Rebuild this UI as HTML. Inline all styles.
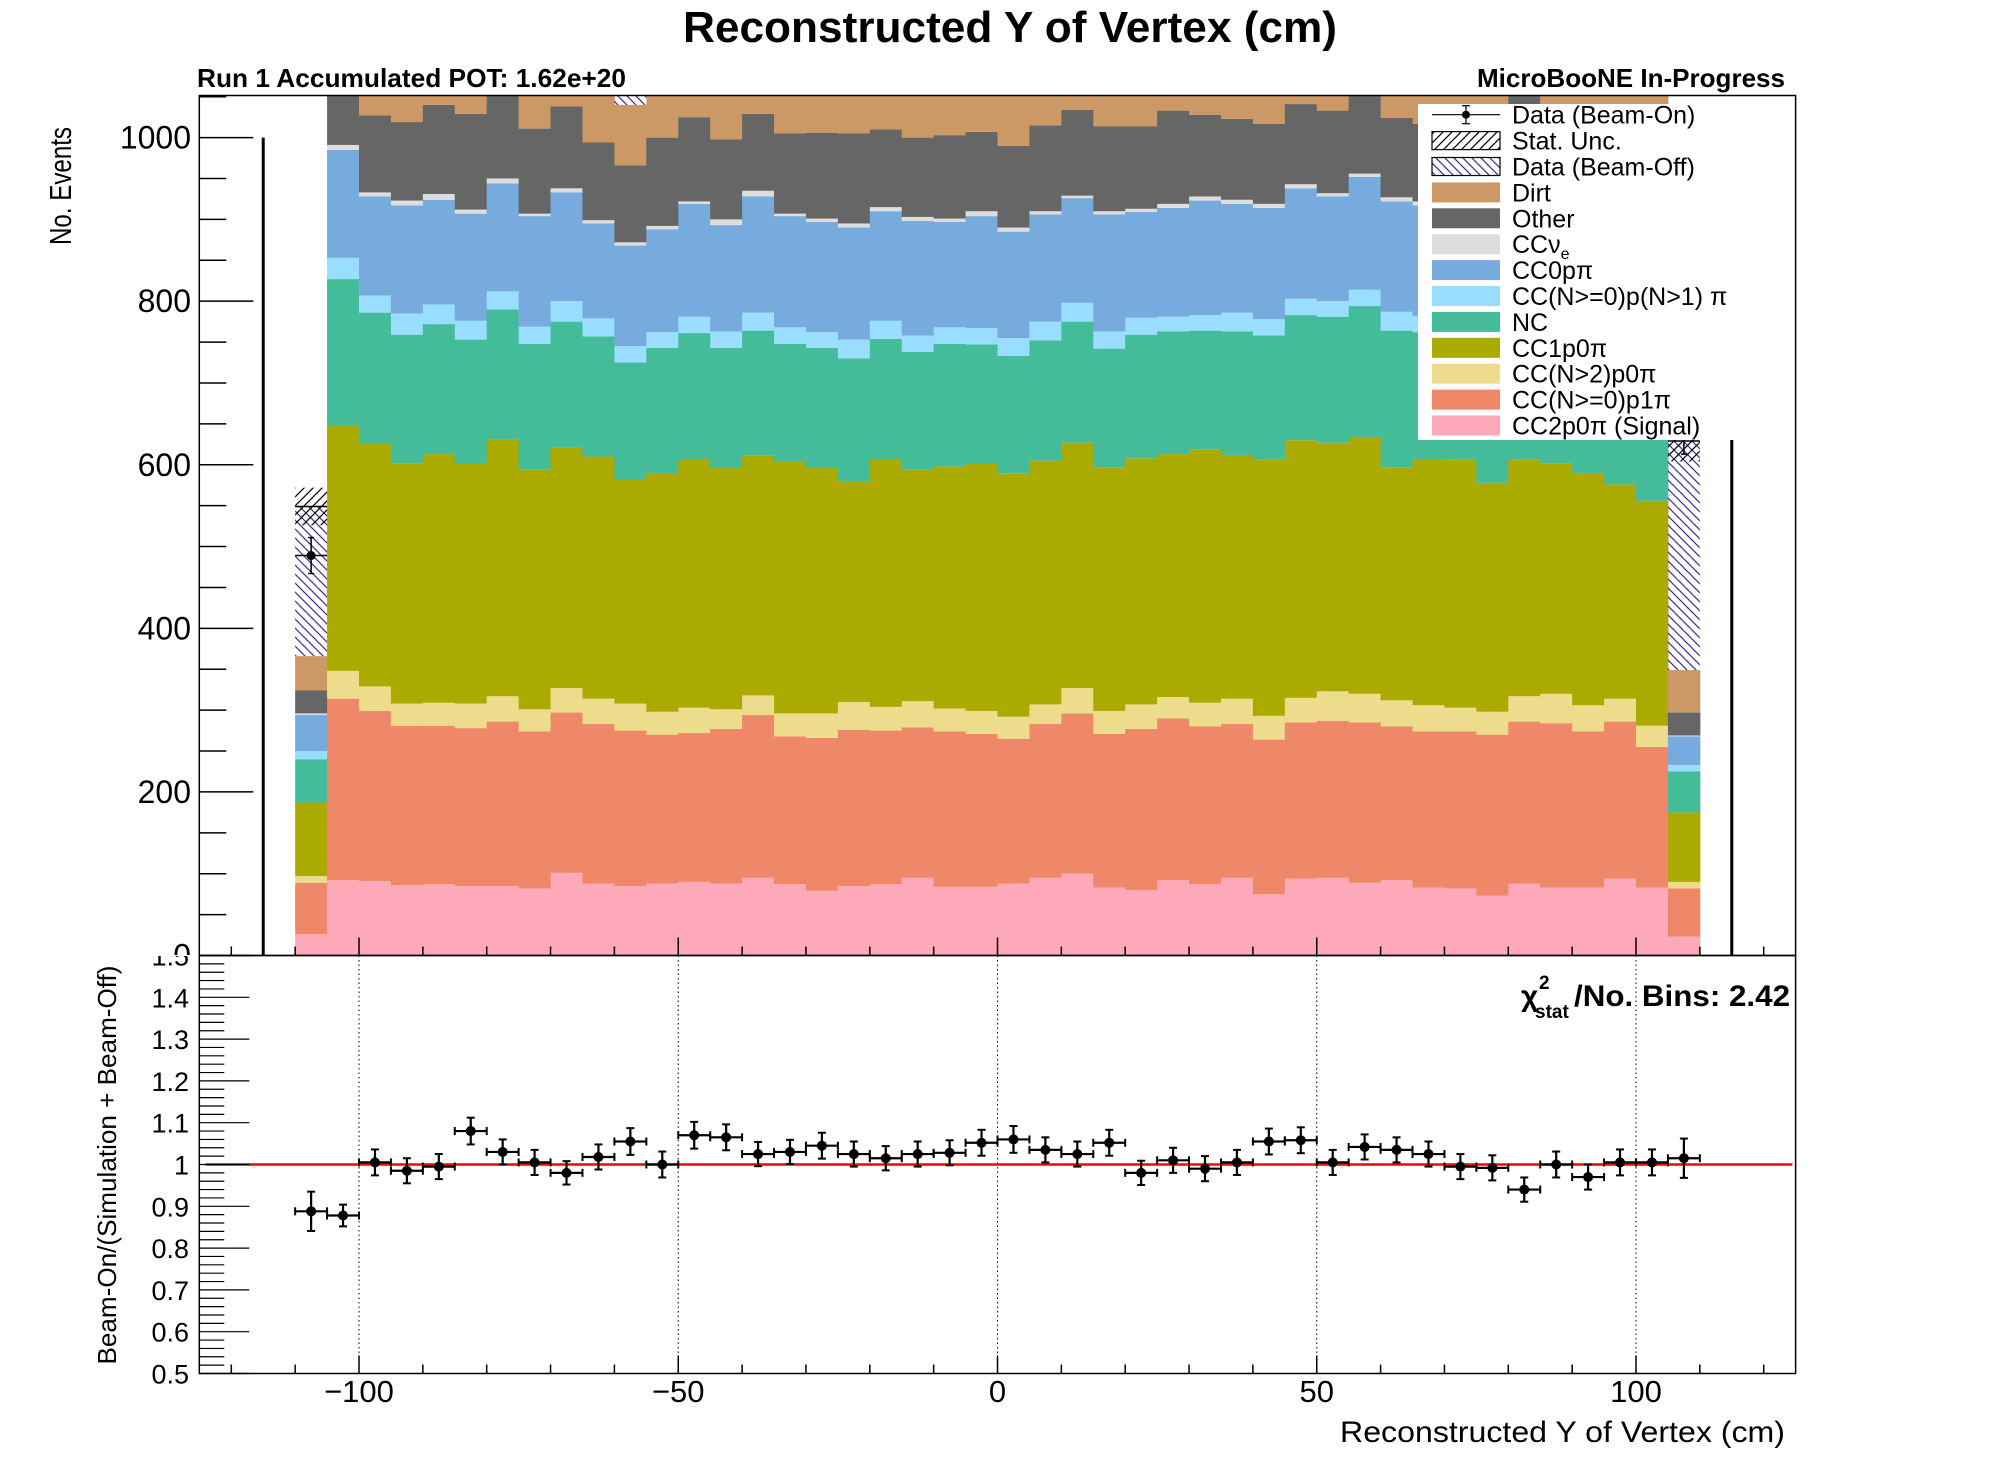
<!DOCTYPE html>
<html>
<head>
<meta charset="utf-8">
<style>
html,body{margin:0;padding:0;background:#fff;}
svg{display:block;}
text{font-family:"Liberation Sans",Arial,sans-serif;}
</style>
</head>
<body>
<svg id="chart" xmlns="http://www.w3.org/2000/svg" width="1996" height="1472" viewBox="0 0 1996 1472">
<defs>
<pattern id="offHatch" width="9" height="9" patternUnits="userSpaceOnUse">
<path d="M0,0 L9,9 M-4.5,4.5 L4.5,13.5 M4.5,-4.5 L13.5,4.5" stroke="#3a2a9e" stroke-width="1.2"/>
</pattern>
<pattern id="statHatch" width="9" height="9" patternUnits="userSpaceOnUse">
<path d="M0,9 L9,0 M-4.5,4.5 L4.5,-4.5 M4.5,13.5 L13.5,4.5" stroke="#000" stroke-width="1.2"/>
</pattern>
<clipPath id="upClip"><rect x="199" y="95.5" width="1597" height="860"/></clipPath>
<clipPath id="lowClip"><rect x="199" y="955.5" width="1597" height="418"/></clipPath>
<clipPath id="upLabelClip"><rect x="0" y="0" width="199" height="955"/></clipPath>
<clipPath id="lowLabelClip"><rect x="0" y="956" width="199" height="460"/></clipPath>
</defs>
<g id="upper" clip-path="url(#upClip)"></g>
<g id="lower" clip-path="url(#lowClip)"></g>
<g id="axes"></g>
<g id="legend"></g>

<text x="1010" y="42" text-anchor="middle" font-size="44" font-weight="bold" textLength="654" lengthAdjust="spacingAndGlyphs">Reconstructed Y of Vertex (cm)</text>
<text x="197" y="87" font-size="26" font-weight="bold" textLength="429" lengthAdjust="spacingAndGlyphs">Run 1 Accumulated POT: 1.62e+20</text>
<text x="1785" y="87" text-anchor="end" font-size="26" font-weight="bold" textLength="308" lengthAdjust="spacingAndGlyphs">MicroBooNE In-Progress</text>
<text transform="translate(71,186) rotate(-90)" text-anchor="middle" font-size="31" textLength="118" lengthAdjust="spacingAndGlyphs">No. Events</text>
<text transform="translate(116,1165) rotate(-90)" text-anchor="middle" font-size="26" textLength="399" lengthAdjust="spacingAndGlyphs">Beam-On/(Simulation + Beam-Off)</text>
<text x="1785" y="1442" text-anchor="end" font-size="30" textLength="445" lengthAdjust="spacingAndGlyphs">Reconstructed Y of Vertex (cm)</text>
<g>
<text x="1521" y="1006" font-size="30" font-weight="bold">χ</text>
<text x="1539" y="989" font-size="19" font-weight="bold">2</text>
<text x="1535" y="1018" font-size="19" font-weight="bold">stat</text>
<text x="1574" y="1006" font-size="30" font-weight="bold" textLength="216" lengthAdjust="spacingAndGlyphs">/No. Bins: 2.42</text>
</g>
</svg>
<script>
// ---- data ----
const binCenters = [-107.5,-102.5,-97.5,-92.5,-87.5,-82.5,-77.5,-72.5,-67.5,-62.5,-57.5,-52.5,-47.5,-42.5,-37.5,-32.5,-27.5,-22.5,-17.5,-12.5,-7.5,-2.5,2.5,7.5,12.5,17.5,22.5,27.5,32.5,37.5,42.5,47.5,52.5,57.5,62.5,67.5,72.5,77.5,82.5,87.5,92.5,97.5,102.5,107.5];
const binWidth = 5;
const signalVals = [26,92,91,86,87,85,85,82,101,88,85,88,90,88,95,87,79,85,87,95,84,84,88,95,100,83,80,92,87,95,75,94,95,89,92,83,82,73,88,83,83,94,83,23];
const p1piVals = [63,222,208,195,194,193,201,192,196,195,190,182,182,189,199,181,187,191,188,184,190,187,177,188,196,188,197,198,193,188,189,191,192,196,188,191,192,197,198,201,191,192,172,59];
const np0piVals = [8,34,30,27,28,30,31,27,30,31,33,28,31,24,24,28,30,34,29,32,28,28,27,24,31,28,30,26,29,31,29,30,36,35,32,32,29,28,31,36,32,28,26,8];
const cc1p0piVals = [90,300,297,294,304,293,314,293,294,296,274,292,304,295,293,308,300,269,303,283,296,302,297,298,300,298,301,297,310,298,313,315,304,314,285,301,303,280,289,282,284,262,275,85];
const ncVals = [53,179,160,157,159,152,159,154,154,147,143,153,154,147,153,144,147,151,147,144,150,146,144,147,148,145,151,150,145,151,152,153,154,160,167,155,155,158,155,155,155,160,160,50];
const multiPiVals = [10,26,21,26,24,23,22,21,25,22,20,19,20,20,22,20,19,23,22,20,20,20,22,23,23,21,21,18,19,23,20,20,19,20,23,20,20,20,20,20,20,20,20,8];
const cc0pVals = [44,132,121,132,128,131,132,135,133,116,123,126,138,130,142,136,135,137,134,140,129,137,130,131,128,143,129,133,140,133,136,135,128,138,135,135,135,133,135,135,135,135,130,35];
const ccnueVals = [2,6,5,6,7,5,6,3,5,4,4,4,3,7,7,3,4,5,5,5,4,6,5,4,3,4,4,5,5,5,5,5,4,4,5,5,5,5,5,5,5,5,5,1];
const otherVals = [28,79,94,96,109,117,110,104,100,95,94,108,103,98,94,98,105,110,95,97,102,97,100,105,105,104,101,114,100,99,98,98,101,104,97,95,95,100,135,95,95,95,95,28];
const dirtVals = [42,60,60,60,60,60,60,60,60,70,74,60,60,60,60,60,60,60,60,60,60,60,70,60,60,60,60,60,60,60,60,60,60,60,60,60,60,60,60,60,60,60,90,52];
const beamOffVals = [183,200,200,200,200,200,200,200,200,200,200,200,200,200,200,200,200,200,200,200,200,200,200,200,200,200,200,200,200,200,200,200,200,200,200,200,200,200,200,200,200,200,200,280];
const statUncVals = [23,36,36,36,36,36,36,36,36,36,36,36,36,36,36,36,36,36,36,36,36,36,36,36,36,36,36,36,36,36,36,36,36,36,36,36,36,36,36,36,36,36,36,25];
const beamOnVals = [489,1168,1290,1262,1285,1378,1315,1270,1267,1280,1298,1273,1350,1345,1290,1300,1318,1295,1285,1296,1297,1320,1325,1305,1300,1325,1245,1282,1258,1275,1340,1350,1280,1330,1310,1300,1262,1265,1230,1270,1235,1275,1270,638];
const beamOnErr = [22,36,36,36,36,36,36,36,36,36,36,36,36,36,36,36,36,36,36,36,36,36,36,36,36,36,36,36,36,36,36,36,36,36,36,36,36,36,36,36,36,36,36,25];
const ratioVals = [0.888,0.878,1.005,0.985,0.995,1.080,1.030,1.005,0.980,1.018,1.055,1.000,1.070,1.065,1.025,1.030,1.045,1.025,1.015,1.025,1.028,1.052,1.060,1.035,1.025,1.052,0.980,1.010,0.990,1.005,1.055,1.058,1.005,1.042,1.035,1.025,0.995,0.992,0.940,1.000,0.970,1.005,1.005,1.015];
const ratioErr = [0.047,0.026,0.031,0.030,0.030,0.032,0.030,0.030,0.028,0.030,0.032,0.031,0.032,0.031,0.029,0.029,0.031,0.030,0.029,0.030,0.030,0.031,0.032,0.030,0.030,0.031,0.029,0.030,0.030,0.030,0.031,0.031,0.030,0.030,0.030,0.030,0.030,0.030,0.029,0.031,0.030,0.031,0.031,0.047];
const edgeLineX = [-115,115];
const edgeLineTop = [1000,1000];
const upperTicksMajor = [0,200,400,600,800,1000];
const upperTickLabels = ["0","200","400","600","800","1000"];
const ratioTicks = [0.5,0.6,0.7,0.8,0.9,1.0,1.1,1.2,1.3,1.4,1.5];
const ratioTickLabels = ["0.5","0.6","0.7","0.8","0.9","1","1.1","1.2","1.3","1.4","1.5"];
const xTicks = [-100,-50,0,50,100];
const xTickLabels = ["\u2212100","\u221250","0","50","100"];

const seriesList = [
  {name:"signal", vals:signalVals, color:"#fea9b9", label:"CC2p0\u03c0 (Signal)"},
  {name:"cc-n-p1pi", vals:p1piVals, color:"#ee8869", label:"CC(N>=0)p1\u03c0"},
  {name:"cc-n2p0pi", vals:np0piVals, color:"#eddc8b", label:"CC(N>2)p0\u03c0"},
  {name:"cc1p0pi", vals:cc1p0piVals, color:"#aaaa00", label:"CC1p0\u03c0"},
  {name:"nc", vals:ncVals, color:"#44bb99", label:"NC"},
  {name:"cc-multi-pi", vals:multiPiVals, color:"#99ddff", label:"CC(N>=0)p(N>1) \u03c0"},
  {name:"cc0p-pi", vals:cc0pVals, color:"#77aadd", label:"CC0p\u03c0"},
  {name:"cc-nue", vals:ccnueVals, color:"#dddddd", label:"CC\u03bde"},
  {name:"other", vals:otherVals, color:"#666666", label:"Other"},
  {name:"dirt", vals:dirtVals, color:"#cc9966", label:"Dirt"}
];

// ---- axes functions ----
const NS = "http://www.w3.org/2000/svg";
function xS(cm){ return 997.5 + cm*6.385; }
function yU(v){ return 955.5 - v*0.8179; }
function yL(r){ return 955.5 + (1.5 - r)*418; }
function mk(tag, attrs, parent){
  const e = document.createElementNS(NS, tag);
  for (const k in attrs) e.setAttribute(k, attrs[k]);
  parent.appendChild(e);
  return e;
}
const up = document.getElementById('upper');
const low = document.getElementById('lower');
const axes = document.getElementById('axes');
const leg = document.getElementById('legend');

// stacked bars
for (let i = 0; i < binCenters.length; i++) {
  let cum = 0;
  const x0 = xS(binCenters[i] - binWidth/2), x1 = xS(binCenters[i] + binWidth/2);
  for (const s of seriesList) {
    const v = s.vals[i];
    const r = mk('rect', {x:x0, y:yU(cum+v), width:x1-x0+0.5, height:yU(cum)-yU(cum+v), fill:s.color}, up);
    
    
    cum += v;
  }
  const bo = beamOffVals[i];
  const rb = mk('rect', {x:x0, y:yU(cum+bo), width:x1-x0, height:yU(cum)-yU(cum+bo), fill:'url(#offHatch)'}, up);
  
  
  cum += bo;
  const u = statUncVals[i];
  const ru = mk('rect', {x:x0, y:yU(cum+u), width:x1-x0, height:yU(cum-u)-yU(cum+u), fill:'url(#statHatch)'}, up);
  
  
  const rl = mk('path', {d:`M${x0},${yU(cum)} L${x1},${yU(cum)}`, stroke:'#000', 'stroke-width':1.5}, up);
  
  
}
// edge lines
for (let i = 0; i < edgeLineX.length; i++) {
  const l = mk('line', {x1:xS(edgeLineX[i]), x2:xS(edgeLineX[i]), y1:yU(0), y2:yU(edgeLineTop[i]), stroke:'#000', 'stroke-width':3}, up);
  
  
}
// beam-on data in upper pad
for (let i = 0; i < binCenters.length; i++) {
  const g = mk('g', {}, up);
  
  
  const cx = xS(binCenters[i]), cy = yU(beamOnVals[i]);
  mk('line', {x1:xS(binCenters[i]-binWidth/2), x2:xS(binCenters[i]+binWidth/2), y1:cy, y2:cy, stroke:'#000', 'stroke-width':1.5}, g);
  mk('line', {x1:cx, x2:cx, y1:yU(beamOnVals[i]+beamOnErr[i]), y2:yU(beamOnVals[i]-beamOnErr[i]), stroke:'#000', 'stroke-width':1.5}, g);
  mk('line', {x1:cx-3, x2:cx+3, y1:yU(beamOnVals[i]+beamOnErr[i]), y2:yU(beamOnVals[i]+beamOnErr[i]), stroke:'#000', 'stroke-width':1.5}, g);
  mk('line', {x1:cx-3, x2:cx+3, y1:yU(beamOnVals[i]-beamOnErr[i]), y2:yU(beamOnVals[i]-beamOnErr[i]), stroke:'#000', 'stroke-width':1.5}, g);
  mk('circle', {cx:cx, cy:cy, r:4.5, fill:'#000'}, g);
}

// lower pad gridlines
for (const t of xTicks) {
  const l = mk('line', {x1:xS(t), x2:xS(t), y1:955.5, y2:1373.5, stroke:'#000', 'stroke-width':1, 'stroke-dasharray':'1.5,3'}, low);
  
  
}
const redLine = mk('line', {x1:xS(-124), x2:xS(124.5), y1:yL(1), y2:yL(1), stroke:'#ff0000', 'stroke-width':2.5}, low);


for (let i = 0; i < binCenters.length; i++) {
  const g = mk('g', {}, low);
  
  
  const cx = xS(binCenters[i]), cy = yL(ratioVals[i]);
  const yt = yL(ratioVals[i]+ratioErr[i]), yb = yL(ratioVals[i]-ratioErr[i]);
  mk('line', {x1:xS(binCenters[i]-binWidth/2), x2:xS(binCenters[i]+binWidth/2), y1:cy, y2:cy, stroke:'#000', 'stroke-width':2.2}, g);
  mk('line', {x1:xS(binCenters[i]-binWidth/2), x2:xS(binCenters[i]-binWidth/2), y1:cy-4, y2:cy+4, stroke:'#000', 'stroke-width':2}, g);
  mk('line', {x1:xS(binCenters[i]+binWidth/2), x2:xS(binCenters[i]+binWidth/2), y1:cy-4, y2:cy+4, stroke:'#000', 'stroke-width':2}, g);
  mk('line', {x1:cx, x2:cx, y1:yt, y2:yb, stroke:'#000', 'stroke-width':2.2}, g);
  mk('line', {x1:cx-4, x2:cx+4, y1:yt, y2:yt, stroke:'#000', 'stroke-width':2}, g);
  mk('line', {x1:cx-4, x2:cx+4, y1:yb, y2:yb, stroke:'#000', 'stroke-width':2}, g);
  mk('circle', {cx:cx, cy:cy, r:5, fill:'#000'}, g);
}

// frames
const fu = mk('rect', {x:199.3, y:95.5, width:1596.3, height:860, fill:'none', stroke:'#000', 'stroke-width':1.5}, axes);


const fl = mk('rect', {x:199.3, y:955.5, width:1596.3, height:418, fill:'none', stroke:'#000', 'stroke-width':1.5}, axes);



// upper y ticks
for (let v = 0; v <= 1050; v += 50) {
  const major = upperTicksMajor.indexOf(v) >= 0;
  const t = mk('line', {x1:199.3, x2:199.3 + (major ? 54 : 27), y1:yU(v), y2:yU(v), stroke:'#000', 'stroke-width':1.5}, axes);
  
  
}
const upLabG = mk('g', {'clip-path':'url(#upLabelClip)'}, axes);
for (let i = 0; i < upperTicksMajor.length; i++) {
  const tx = mk('text', {x:191, y:yU(upperTicksMajor[i])+11, 'text-anchor':'end', 'font-size':32}, upLabG);
  tx.textContent = upperTickLabels[i];
  
  
}
// ratio y ticks
for (let k = 0; k <= 50; k++) {
  const r = 0.5 + k*0.02;
  const major = (k % 5 === 0);
  const t = mk('line', {x1:199.3, x2:199.3 + (major ? 50 : 25), y1:yL(r), y2:yL(r), stroke:'#000', 'stroke-width':1.2}, axes);
  
  
}
const lowLabG = mk('g', {'clip-path':'url(#lowLabelClip)'}, axes);
for (let i = 0; i < ratioTicks.length; i++) {
  const tx = mk('text', {x:189, y:yL(ratioTicks[i])+10, 'text-anchor':'end', 'font-size':27}, lowLabG);
  tx.textContent = ratioTickLabels[i];
  
  
}
// x ticks
for (let c = -120; c <= 120; c += 10) {
  const major = (c % 50 === 0);
  const len = major ? 18 : 9;
  const t1 = mk('line', {x1:xS(c), x2:xS(c), y1:955.5, y2:955.5-len, stroke:'#000', 'stroke-width':1.5}, axes);
  
  
  const t2 = mk('line', {x1:xS(c), x2:xS(c), y1:1373.5, y2:1373.5-len, stroke:'#000', 'stroke-width':1.5}, axes);
  
  
}
for (let i = 0; i < xTicks.length; i++) {
  const tx = mk('text', {x:xS(xTicks[i]), y:1402, 'text-anchor':'middle', 'font-size':31}, axes);
  tx.textContent = xTickLabels[i];
  
  
}

// legend
const lbg = mk('rect', {x:1418, y:104, width:332, height:336, fill:'#fff'}, leg);


const legendRows = ["Data (Beam-On)","Stat. Unc.","Data (Beam-Off)"];
for (let i = seriesList.length - 1; i >= 0; i--) legendRows.push(seriesList[i].label);
for (let i = 0; i < legendRows.length; i++) {
  const cy = 114.7 + i*25.9;
  const g = mk('g', {}, leg);
  
  
  if (i === 0) {
    mk('line', {x1:1432, x2:1500, y1:cy, y2:cy, stroke:'#000', 'stroke-width':1.2}, g);
    mk('line', {x1:1466, x2:1466, y1:cy-9, y2:cy+9, stroke:'#000', 'stroke-width':1.2}, g);
    mk('line', {x1:1462, x2:1470, y1:cy-9, y2:cy-9, stroke:'#000', 'stroke-width':1.2}, g);
    mk('line', {x1:1462, x2:1470, y1:cy+9, y2:cy+9, stroke:'#000', 'stroke-width':1.2}, g);
    mk('circle', {cx:1466, cy:cy, r:4, fill:'#000'}, g);
  } else if (i === 1) {
    mk('rect', {x:1432, y:cy-9, width:68, height:18, fill:'url(#statHatch)', stroke:'#000', 'stroke-width':1.2}, g);
  } else if (i === 2) {
    mk('rect', {x:1432, y:cy-9, width:68, height:18, fill:'url(#offHatch)', stroke:'#000', 'stroke-width':1.2}, g);
  } else {
    const s = seriesList[seriesList.length - 1 - (i - 3)];
    mk('rect', {x:1432, y:cy-10, width:68, height:20, fill:s.color}, g);
  }
  const tx = mk('text', {x:1512, y:cy+9, 'font-size':25}, g);
  if (legendRows[i] === "CC\u03bde") {
    tx.textContent = "CC\u03bd";
    const sub = mk('tspan', {'font-size':16, dy:6}, tx);
    sub.textContent = "e";
  } else {
    tx.textContent = legendRows[i];
  }
}
</script>
</body>
</html>
